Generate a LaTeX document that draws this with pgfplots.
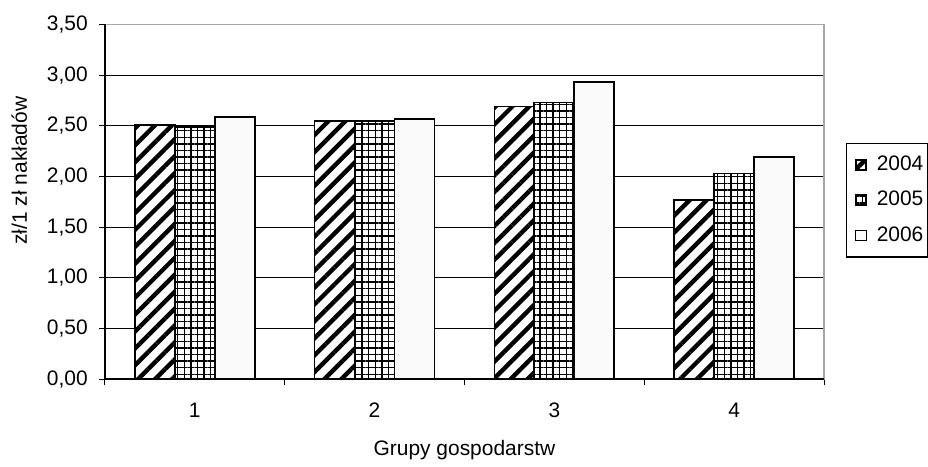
\documentclass[border=0pt]{standalone}
\usepackage{pgfplots}
\pgfplotsset{compat=1.18}
\usepackage{fontspec}
\setmainfont{Liberation Sans}
\usetikzlibrary{patterns.meta}
\newcommand\ff{\fontsize{10.5}{12.6}\selectfont}
\begin{document}
\begin{tikzpicture}
\path (0,0) rectangle (464pt,231.5pt);
\begin{axis}[
  at={(52.5pt,41.5pt)}, anchor=south west,
  scale only axis, width=360.5pt, height=177.75pt,
  xmin=0.5, xmax=4.5, ymin=0, ymax=3.5,
  xtick={0.5,1.5,2.5,3.5,4.5}, x tick label as interval,
  xticklabels={1,2,3,4},
  ytick={0,0.5,1,1.5,2,2.5,3,3.5},
  y tick label style={xshift=-2pt},
  yticklabel={\pgfmathprintnumber[fixed, fixed zerofill, precision=2, use comma, assume math mode=true]{\tick}},
  tick pos=left, tick align=outside, major tick length=3pt,
  tick style={black, line width=0.6pt},
  ticklabel style={font=\ff},
  x tick label style={yshift=-5.5pt},
  ymajorgrids, grid style={black, line width=0.6pt},
  axis line style={draw=gray!70, line width=0.9pt},
  xlabel={Grupy gospodarstw}, ylabel={zł/1 zł nakładów},
  label style={font=\ff},
  xlabel style={at={(axis description cs:0.5,-0.2)}, anchor=center},
  ylabel style={at={(axis description cs:-0.119,0.588)}, anchor=center},
  bar width=0.2222, ybar,
  legend style={at={(1.0305,0.667)}, anchor=north west, draw=black, line width=0.6pt, font=\ff, row sep=4.8pt, inner xsep=1.5pt, inner ysep=4.5pt, nodes={inner xsep=0.5pt}},
  legend cell align=left,
  legend image code/.code={\draw[#1, line width=0.6pt] (0pt,0pt) (2.8pt,-2.6pt) rectangle (8pt,2.6pt) (12.5pt,0pt);},
  after end axis/.code={\draw[black, line width=0.9pt] (rel axis cs:0,1) -- (rel axis cs:0,0) -- (rel axis cs:1,0);},
]
\addplot[draw=black, line width=0.9pt, bar shift=-0.2222, preaction={fill=white}, pattern={Lines[angle=45,distance=6pt,line width=2.2pt]}, pattern color=black]
  coordinates {(1,2.51) (2,2.55) (3,2.69) (4,1.77)};
\addplot[draw=black, line width=0.9pt, bar shift=0, preaction={fill=white}, pattern={Hatch[angle=0,distance=3.3pt,line width=0.7pt]}, pattern color=black]
  coordinates {(1,2.49) (2,2.55) (3,2.73) (4,2.03)};
\addplot[draw=black, line width=0.9pt, bar shift=0.2222, fill=black!2]
  coordinates {(1,2.59) (2,2.57) (3,2.93) (4,2.19)};
\legend{2004,2005,2006}
\end{axis}
\end{tikzpicture}
\end{document}
